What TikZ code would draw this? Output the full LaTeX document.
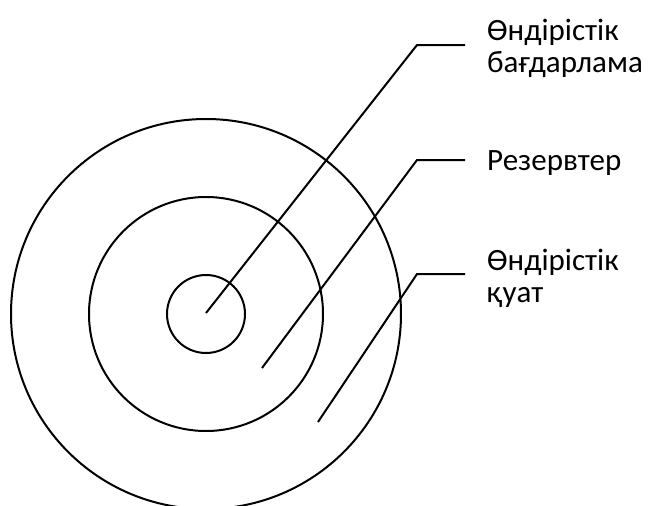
\documentclass[tikz,border=0pt]{standalone}
\usepackage{fontspec}
\setmainfont{Carlito}
\usetikzlibrary{positioning,calc}

\begin{document}
\begin{tikzpicture}[x=1pt, y=-1pt,
    ring/.style={draw=black, line width=2pt},
    leader/.style={draw=black, line width=2pt, shorten >=22pt},
    caption/.style={anchor=base west, align=left, inner sep=0pt, font=\fontsize{31}{32}\selectfont}
]
\useasboundingbox (0,0) rectangle (649,506);

\coordinate (ctr) at (206,314);
\draw[ring] (ctr) circle[radius=195pt];
\draw[ring] (ctr) circle[radius=117pt];
\draw[ring] (ctr) circle[radius=39pt];

% base anchor sits on the last line
\node[caption] (prog) at (487,72) {Өндірістік\\бағдарлама};
\node[caption] (rez) at (487,170) {Резервтер};
\node[caption] (quat) at (487,302) {Өндірістік\\қуат};

\coordinate (in1) at (206,313);
\coordinate (in2) at (262,368);
\coordinate (in3) at (318,422);
\coordinate (k1) at (417,45);
\coordinate (k2) at (417,160);
\coordinate (k3) at (417,274);

\draw[leader] (in1) -- (k1) -- (k1 -| prog.west);
\draw[leader] (in2) -- (k2) -- (k2 -| rez.west);
\draw[leader] (in3) -- (k3) -- (k3 -| quat.west);

\end{tikzpicture}
\end{document}
